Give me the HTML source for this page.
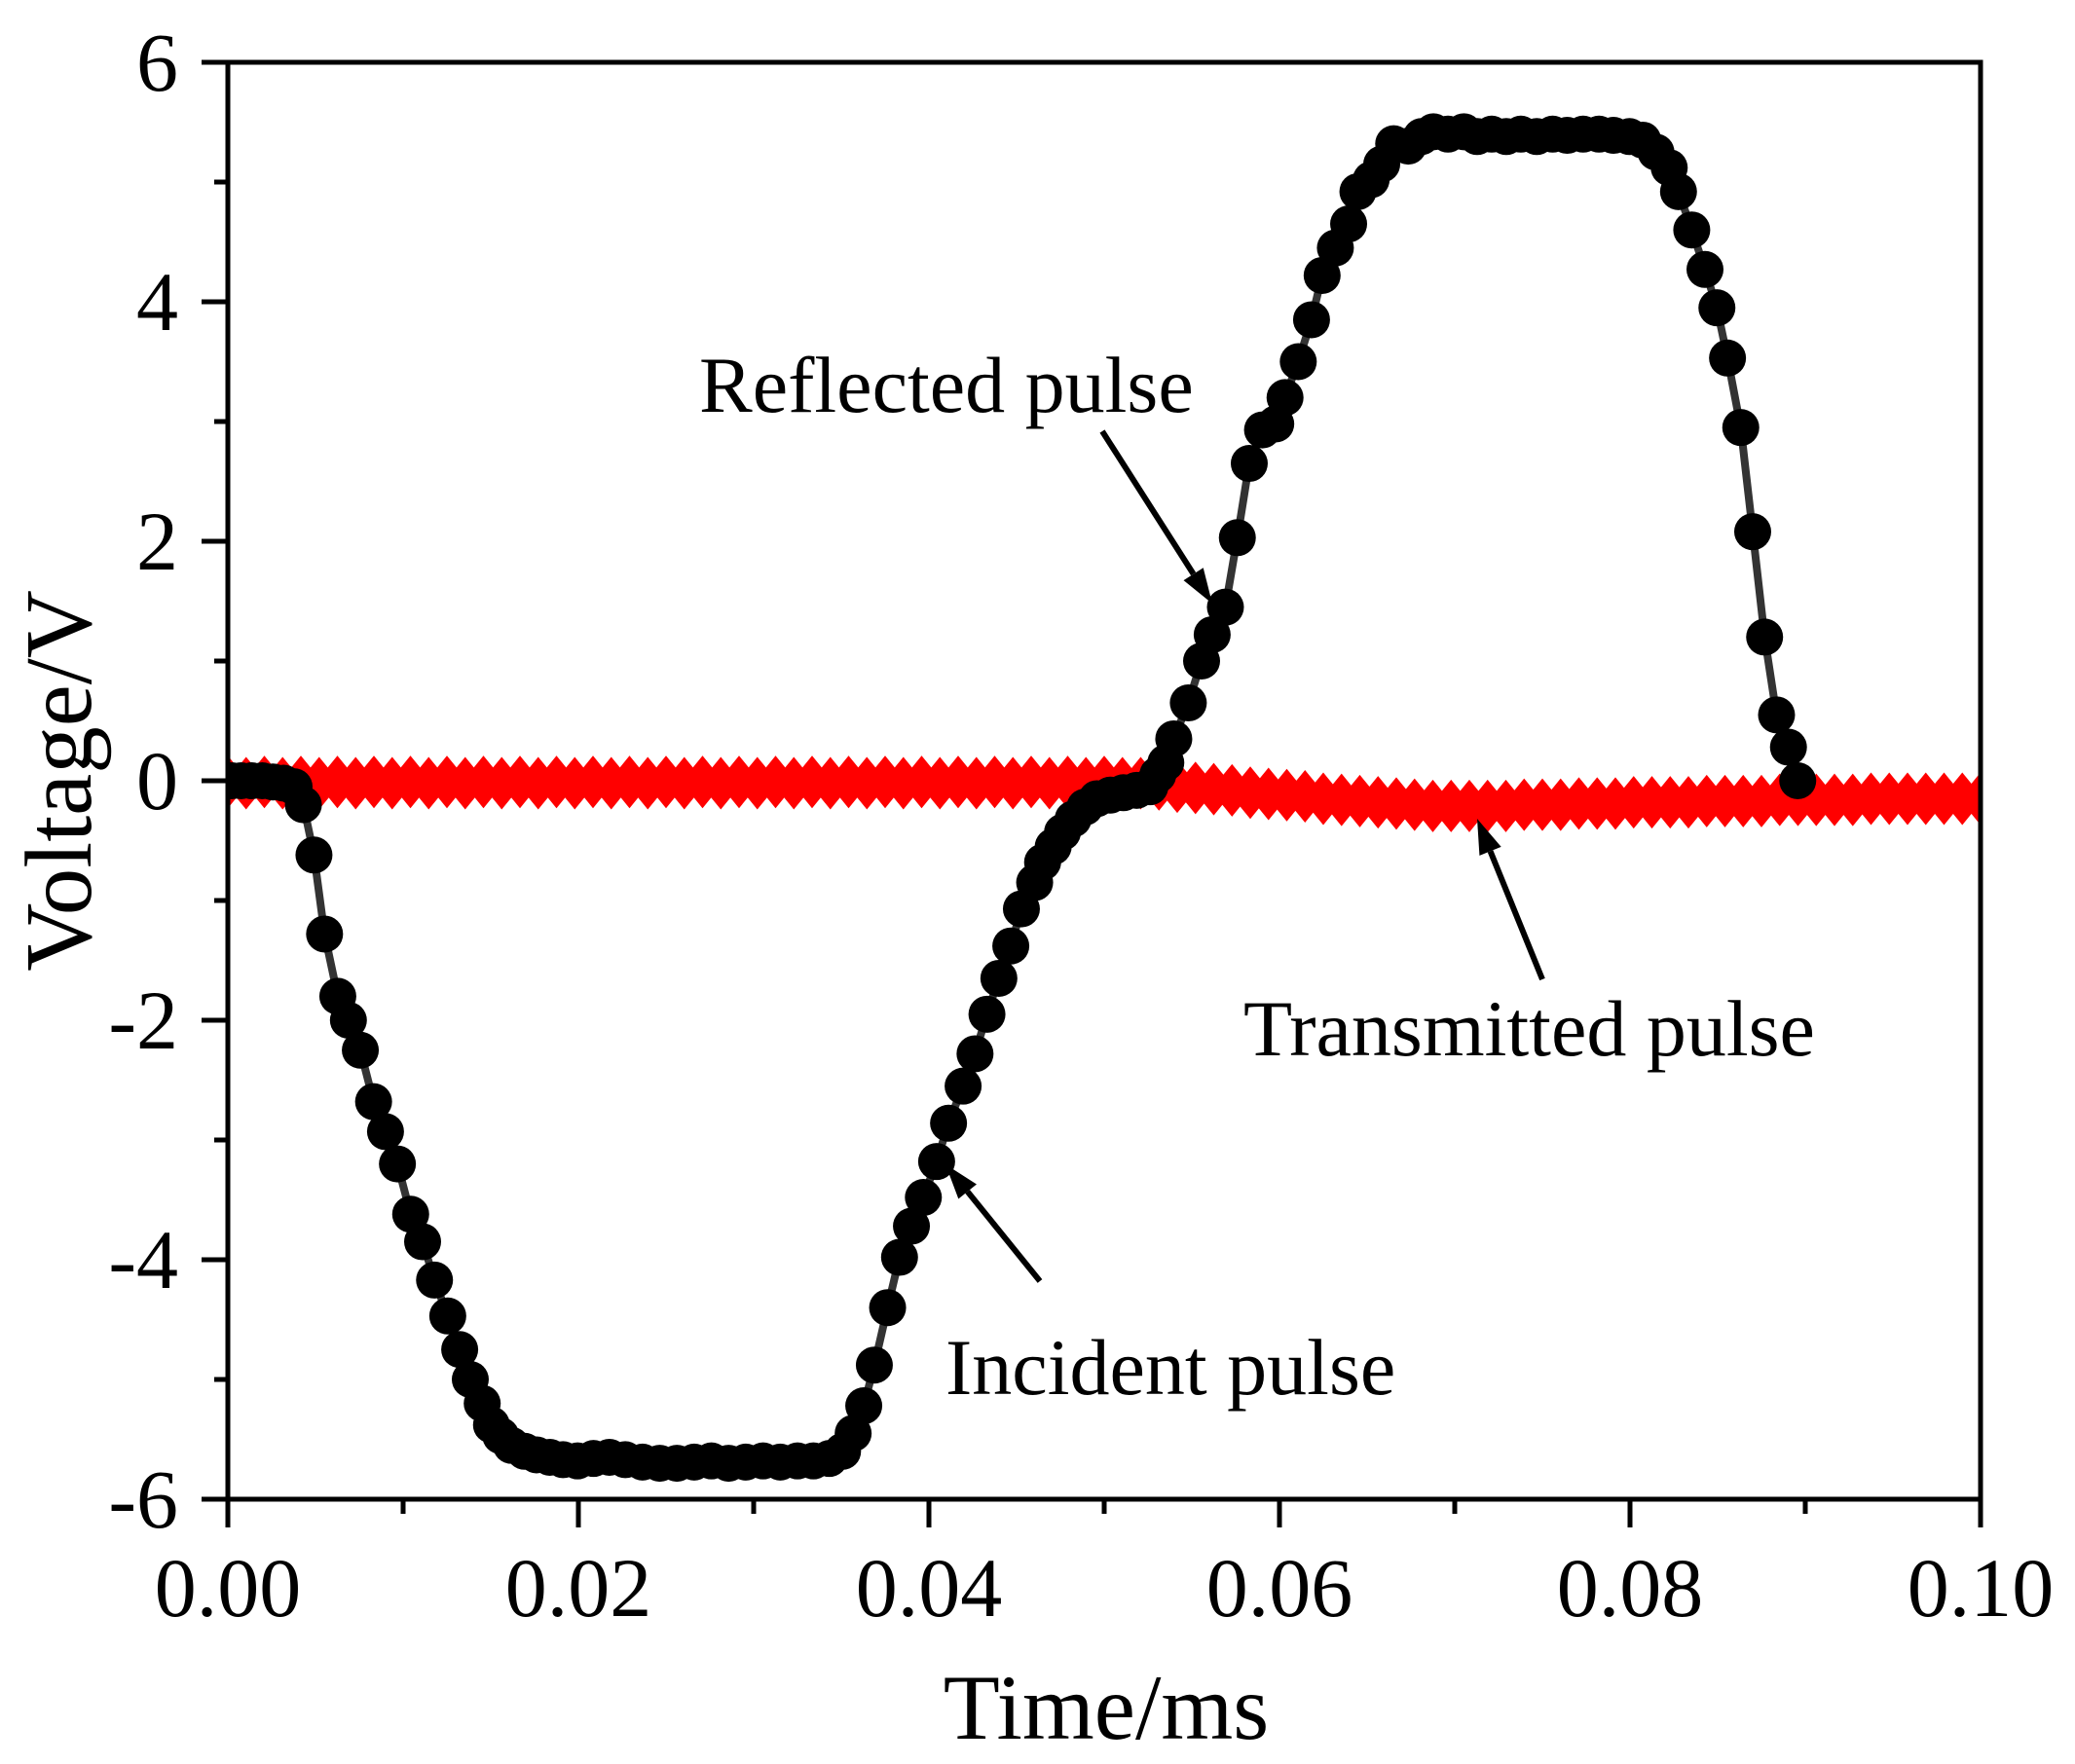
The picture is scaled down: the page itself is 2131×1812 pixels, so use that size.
<!DOCTYPE html>
<html><head><meta charset="utf-8">
<style>
html,body{margin:0;padding:0;background:#fff;}
svg{display:block;}
text{font-family:"Liberation Serif",serif;fill:#000;}
</style></head>
<body>
<svg id="chart" width="2131" height="1812" viewBox="0 0 2131 1812" xmlns="http://www.w3.org/2000/svg">
  <defs><clipPath id="pc"><rect x="234" y="64" width="1800" height="1476"/></clipPath></defs>
  <g id="plot" clip-path="url(#pc)"></g>
  <g id="axes"></g>
  <text transform="translate(93,802) rotate(-90)" text-anchor="middle" font-size="97">Voltage/V</text>
  <text x="1136" y="1786" text-anchor="middle" font-size="95">Time/ms</text>
  <text x="718" y="423" font-size="82">Reflected pulse</text>
  <text x="1277" y="1084" font-size="82">Transmitted pulse</text>
  <text x="971" y="1432" font-size="82">Incident pulse</text>
  <g id="arrows"></g>
</svg>
<script>
// ---- data ----
const blackX = [175,182,190,198,206,214,222,229,237,245,255,263,272,282,291,300,310,319,328,338,347,355,364,371,378,386,396,405,415,425,436,448,460,472,485,498,511,524,537,550,563,576,589,602,614,626,636,644,652,660,670,679,688,697,707,716,727,736,745,754,763,771,781,787,795,802,810,819,828,838,848,858,868,874,880,886,897,907,915,925,934,943,953,963,970,980,990,998,1008,1018,1025,1035,1043,1052,1063,1073,1082,1093,1105,1115,1126,1137,1148,1160,1172,1183,1195,1207,1218,1230,1240,1250,1260,1267,1277,1287,1296,1304,1314,1323,1332,1341,1350,1357];
const blackTime = blackX.map(v => (v - 172) / 13230);
const blackVolt = [0,0,0,0,-0.01,-0.02,-0.05,-0.2,-0.62,-1.28,-1.8,-2.0,-2.25,-2.68,-2.93,-3.2,-3.62,-3.85,-4.17,-4.47,-4.75,-5.0,-5.2,-5.38,-5.47,-5.55,-5.6,-5.63,-5.65,-5.67,-5.68,-5.66,-5.65,-5.67,-5.69,-5.7,-5.7,-5.69,-5.68,-5.7,-5.69,-5.68,-5.69,-5.68,-5.68,-5.66,-5.6,-5.45,-5.22,-4.88,-4.4,-3.98,-3.72,-3.48,-3.18,-2.86,-2.55,-2.28,-1.95,-1.65,-1.38,-1.07,-0.85,-0.68,-0.55,-0.43,-0.32,-0.22,-0.15,-0.12,-0.1,-0.08,-0.05,0.05,0.15,0.35,0.65,1.0,1.22,1.45,2.03,2.65,2.93,2.98,3.2,3.5,3.85,4.22,4.45,4.65,4.92,5.02,5.15,5.32,5.3,5.38,5.42,5.4,5.42,5.38,5.4,5.38,5.4,5.38,5.4,5.39,5.4,5.4,5.39,5.38,5.35,5.25,5.12,4.92,4.6,4.27,3.95,3.53,2.95,2.08,1.2,0.55,0.28,0.0];
const redVolt = [-0.01,-0.02,-0.01,-0.02,-0.01,-0.02,-0.01,-0.02,-0.01,-0.02,-0.01,-0.02,-0.01,-0.02,-0.01,-0.02,-0.01,-0.02,-0.01,-0.02,-0.01,-0.02,-0.01,-0.02,-0.01,-0.02,-0.01,-0.02,-0.01,-0.02,-0.01,-0.02,-0.01,-0.02,-0.01,-0.02,-0.01,-0.02,-0.01,-0.02,-0.01,-0.02,-0.01,-0.02,-0.01,-0.02,-0.01,-0.02,-0.01,-0.02,
 -0.02,-0.03,-0.05,-0.06,-0.07,-0.08,-0.10,-0.11,-0.12,-0.13,-0.15,-0.16,-0.17,-0.18,-0.19,-0.20,-0.21,-0.21,
 -0.21,-0.21,-0.21,-0.20,-0.20,-0.20,-0.19,-0.19,-0.19,-0.18,-0.18,-0.18,-0.18,-0.17,-0.17,-0.17,-0.17,-0.16,-0.16,-0.16,-0.16,-0.16,-0.15,-0.15,-0.15,-0.15,-0.15,-0.15,-0.15];
const redTime = redVolt.map((v, i) => i * 0.1 / (redVolt.length - 1));
const xTickLabels = ["0.00","0.02","0.04","0.06","0.08","0.10"];
const xTickValues = [0,0.02,0.04,0.06,0.08,0.10];
const yTickLabels = ["-6","-4","-2","0","2","4","6"];
const yTickValues = [-6,-4,-2,0,2,4,6];

// ---- scales ----
const X0 = 234, X1 = 2034, Y0 = 1540, Y1 = 64;
const sx = t => X0 + (t - 0) / 0.1 * (X1 - X0);
const sy = v => Y0 - (v + 6) / 12 * (Y0 - Y1);
const NS = "http://www.w3.org/2000/svg";
function mk(tag, attrs, parent) {
  const e = document.createElementNS(NS, tag);
  for (const k in attrs) e.setAttribute(k, attrs[k]);
  parent.appendChild(e);
  return e;
}
const plot = document.getElementById('plot');
const axes = document.getElementById('axes');
const arrows = document.getElementById('arrows');

// red transmitted series (diamonds)
const redG = mk('g', {}, plot);


redTime.forEach((t, i) => {
  const cx = sx(t), cy = sy(redVolt[i]);
  const d = mk('polygon', {points: `${cx},${cy-27} ${cx+22},${cy} ${cx},${cy+27} ${cx-22},${cy}`, fill: '#ff0000'}, redG);
  
  
});

// black incident/reflected series
const blkG = mk('g', {}, plot);


const pts = blackTime.map((t, i) => `${sx(t)},${sy(blackVolt[i])}`).join(' ');
const line = mk('polyline', {points: pts, fill: 'none', stroke: '#333', 'stroke-width': 8, 'stroke-linejoin': 'round'}, blkG);


blackTime.forEach((t, i) => {
  const c = mk('circle', {cx: sx(t), cy: sy(blackVolt[i]), r: 19, fill: '#000'}, blkG);
  
  
});

// axes frame
const frame = mk('rect', {x: X0, y: Y1, width: X1 - X0, height: Y0 - Y1, fill: 'none', stroke: '#000', 'stroke-width': 5}, axes);


// x ticks
for (let k = 0; k <= 10; k++) {
  const t = k * 0.01, x = sx(t), major = k % 2 === 0;
  const tk = mk('line', {x1: x, y1: Y0, x2: x, y2: Y0 + (major ? 29 : 15), stroke: '#000', 'stroke-width': 5}, axes);
  
  
}
xTickValues.forEach((t, i) => {
  const tx = mk('text', {x: sx(t), y: 1660, 'text-anchor': 'middle', 'font-size': 86}, axes);
  tx.textContent = xTickLabels[i];
  
  
});
// y ticks
for (let v = -6; v <= 6; v++) {
  const y = sy(v), major = v % 2 === 0;
  const tk = mk('line', {x1: X0, y1: y, x2: X0 - (major ? 27 : 14), y2: y, stroke: '#000', 'stroke-width': 5}, axes);
  
  
}
yTickValues.forEach((v, i) => {
  const tx = mk('text', {x: 183, y: sy(v) + 29, 'text-anchor': 'end', 'font-size': 86}, axes);
  tx.textContent = yTickLabels[i];
  
  
});

// arrows
function arrow(x1, y1, x2, y2, name) {
  const g = mk('g', {}, arrows);
  
  
  const a = Math.atan2(y2 - y1, x2 - x1), L = 36, W = 12;
  const bx = x2 - L * Math.cos(a), by = y2 - L * Math.sin(a);
  mk('line', {x1, y1, x2: bx, y2: by, stroke: '#000', 'stroke-width': 6}, g);
  const px = -Math.sin(a) * W, py = Math.cos(a) * W;
  mk('polygon', {points: `${x2},${y2} ${bx+px},${by+py} ${bx-px},${by-py}`, fill: '#000'}, g);
}
arrow(1132, 443, 1245, 620, 'reflected-arrow');
arrow(1584, 1006, 1517, 841, 'transmitted-arrow');
arrow(1068, 1316, 971, 1196, 'incident-arrow');
</script>
</body></html>
